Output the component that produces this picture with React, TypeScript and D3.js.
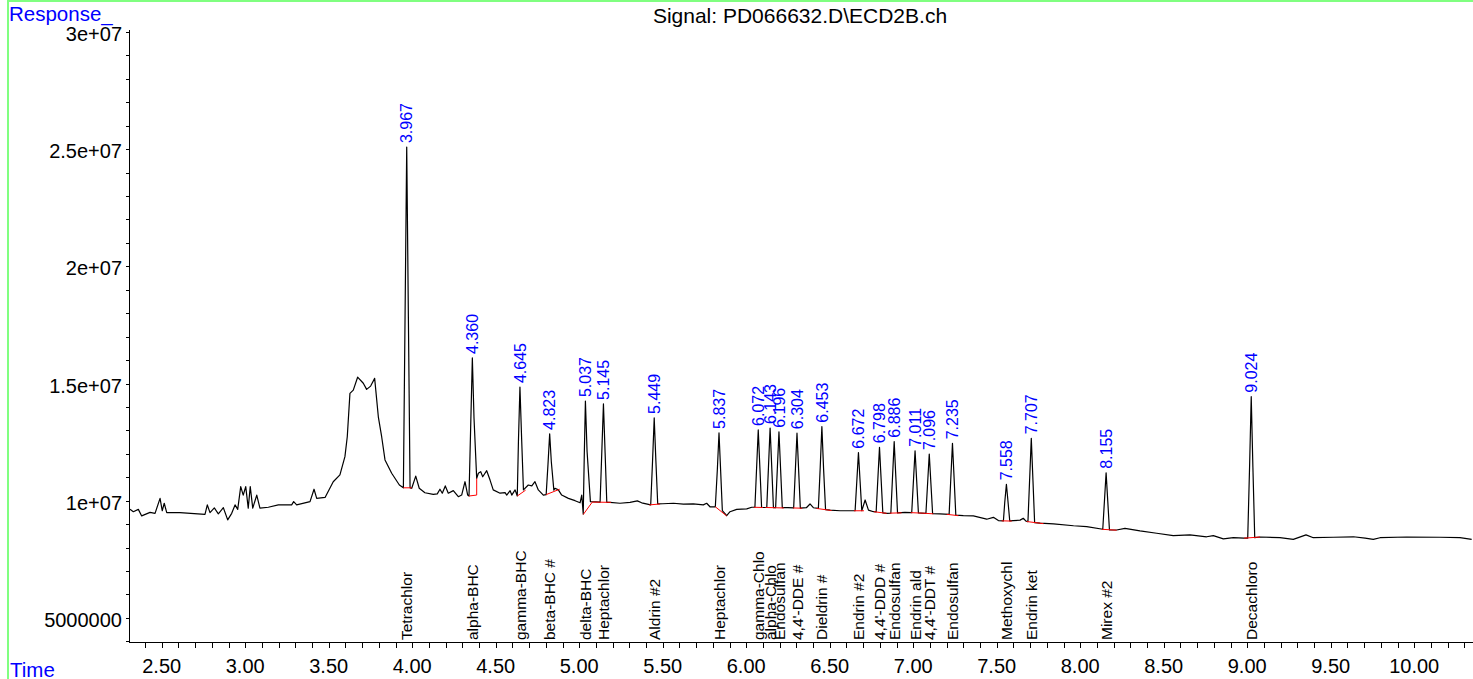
import React, { useRef, useEffect } from "react";
import { select, scaleLinear, line, range } from "d3";

// signal trace: [time (min), response (millions)]
const trace: [number, number][] = [
  [2.31, 9.63], [2.33, 9.53], [2.36, 9.63], [2.38, 9.35], [2.43, 9.5], [2.46, 9.46], [2.49, 10.1], [2.503, 9.57],
  [2.515, 9.89], [2.53, 9.49], [2.609, 9.49], [2.759, 9.42], [2.773, 9.82], [2.789, 9.49], [2.815, 9.69], [2.839, 9.44],
  [2.869, 9.7], [2.895, 9.18], [2.919, 9.46], [2.939, 9.82], [2.955, 9.63], [2.973, 10.6], [2.988, 10.24], [3.003, 10.6],
  [3.018, 9.68], [3.03, 10.6], [3.045, 9.68], [3.069, 10.24], [3.088, 9.68], [3.138, 9.72], [3.198, 9.82], [3.278, 9.82],
  [3.29, 9.96], [3.308, 9.82], [3.388, 9.96], [3.412, 10.49], [3.428, 10.1], [3.478, 10.14], [3.527, 10.81], [3.567, 11.1],
  [3.597, 11.88], [3.611, 12.73], [3.627, 14.58], [3.647, 14.72], [3.673, 15.27], [3.707, 15.01], [3.727, 14.75],
  [3.751, 14.89], [3.775, 15.22], [3.797, 13.58], [3.817, 12.73], [3.837, 11.74], [3.877, 11.17], [3.923, 10.67],
  [3.947, 10.55], [3.957, 17.82], [3.967, 25.09], [3.977, 17.82], [3.987, 10.55], [3.997, 10.53], [4.021, 11.05],
  [4.042, 10.53], [4.076, 10.34], [4.126, 10.27], [4.15, 10.29], [4.166, 10.49], [4.18, 10.32], [4.198, 10.63],
  [4.216, 10.32], [4.246, 10.43], [4.276, 10.17], [4.296, 10.24], [4.316, 10.81], [4.332, 10.24], [4.34, 10.2],
  [4.35, 13.15], [4.36, 16.09], [4.37, 13.52], [4.386, 10.95], [4.396, 11.17], [4.41, 11.24], [4.422, 11.02],
  [4.446, 11.28], [4.466, 10.88], [4.485, 10.46], [4.526, 10.32], [4.556, 10.34], [4.566, 10.24], [4.586, 10.43],
  [4.596, 10.24], [4.616, 10.46], [4.629, 10.2], [4.636, 12.53], [4.645, 14.85], [4.655, 12.66], [4.666, 10.46],
  [4.695, 10.67], [4.716, 10.63], [4.735, 10.81], [4.755, 10.46], [4.785, 10.24], [4.802, 10.26], [4.813, 11.56],
  [4.823, 12.85], [4.833, 11.65], [4.848, 10.45], [4.855, 10.53], [4.875, 10.46], [4.895, 10.24], [4.935, 10.1],
  [4.975, 10.0], [5.005, 9.91], [5.015, 10.24], [5.024, 9.43], [5.03, 11.84], [5.037, 14.25], [5.047, 12.1],
  [5.067, 9.96], [5.1, 9.95], [5.125, 9.94], [5.135, 12.04], [5.145, 14.13], [5.155, 12.04], [5.165, 9.93],
  [5.184, 9.93], [5.244, 9.89], [5.304, 9.93], [5.348, 9.99], [5.374, 9.91], [5.428, 9.82], [5.439, 11.68],
  [5.449, 13.53], [5.459, 11.7], [5.47, 9.86], [5.5, 9.87], [5.564, 9.89], [5.624, 9.85], [5.683, 9.86], [5.743, 9.82],
  [5.763, 9.89], [5.783, 9.74], [5.803, 9.74], [5.815, 9.74], [5.827, 11.32], [5.837, 12.89], [5.847, 11.24],
  [5.857, 9.58], [5.883, 9.36], [5.903, 9.53], [5.943, 9.63], [6.003, 9.65], [6.033, 9.72], [6.052, 9.72],
  [6.062, 11.37], [6.072, 13.02], [6.082, 11.37], [6.092, 9.71], [6.123, 9.71], [6.133, 11.4], [6.143, 13.1],
  [6.153, 11.4], [6.163, 9.7], [6.176, 9.7], [6.186, 11.32], [6.196, 12.94], [6.206, 11.32], [6.216, 9.7],
  [6.25, 9.7], [6.284, 9.69], [6.294, 11.28], [6.304, 12.88], [6.314, 11.28], [6.324, 9.68], [6.36, 9.7],
  [6.382, 9.86], [6.402, 9.7], [6.432, 9.67], [6.443, 11.41], [6.453, 13.16], [6.463, 11.39], [6.475, 9.62],
  [6.503, 9.6], [6.562, 9.57], [6.642, 9.57], [6.652, 9.57], [6.662, 10.81], [6.672, 12.05], [6.682, 10.81],
  [6.692, 9.57], [6.712, 10.03], [6.732, 9.6], [6.762, 9.53], [6.778, 9.52], [6.788, 10.9], [6.798, 12.28],
  [6.808, 10.88], [6.818, 9.48], [6.841, 9.46], [6.866, 9.47], [6.876, 11.0], [6.886, 12.52], [6.896, 11.0],
  [6.906, 9.48], [6.95, 9.5], [6.991, 9.49], [7.001, 10.81], [7.011, 12.13], [7.021, 10.81], [7.031, 9.48],
  [7.05, 9.47], [7.076, 9.46], [7.086, 10.72], [7.096, 11.99], [7.106, 10.72], [7.116, 9.45], [7.16, 9.44],
  [7.215, 9.42], [7.225, 10.94], [7.235, 12.45], [7.245, 10.92], [7.255, 9.38], [7.3, 9.36], [7.36, 9.35],
  [7.44, 9.21], [7.48, 9.29], [7.51, 9.15], [7.54, 9.14], [7.548, 9.92], [7.558, 10.7], [7.568, 9.92], [7.578, 9.14],
  [7.599, 9.15], [7.64, 9.17], [7.659, 9.25], [7.675, 9.13], [7.687, 9.11], [7.697, 10.89], [7.707, 12.66],
  [7.717, 10.86], [7.727, 9.06], [7.76, 9.04], [7.84, 9.01], [7.96, 8.93], [8.039, 8.89], [8.135, 8.78],
  [8.145, 9.99], [8.155, 11.19], [8.165, 9.97], [8.175, 8.75], [8.218, 8.75], [8.268, 8.82], [8.358, 8.71],
  [8.458, 8.61], [8.557, 8.51], [8.657, 8.54], [8.757, 8.46], [8.797, 8.51], [8.857, 8.37], [8.917, 8.42],
  [8.981, 8.4], [9.003, 8.4], [9.014, 11.42], [9.024, 14.44], [9.034, 11.43], [9.045, 8.42], [9.077, 8.45],
  [9.196, 8.42], [9.276, 8.35], [9.352, 8.54], [9.396, 8.42], [9.516, 8.44], [9.636, 8.46], [9.706, 8.4],
  [9.755, 8.35], [9.795, 8.42], [9.955, 8.45], [10.154, 8.44], [10.274, 8.42], [10.344, 8.35],
];

const peakTimes = [
  3.967, 4.36, 4.645, 4.823, 5.037, 5.145, 5.449, 5.837, 6.072, 6.143, 6.196, 6.304,
  6.453, 6.672, 6.798, 6.886, 7.011, 7.096, 7.235, 7.558, 7.707, 8.155, 9.024,
];
const peakApex = [
  25.09, 16.09, 14.85, 12.85, 14.25, 14.13, 13.53, 12.89, 13.02, 13.1, 12.94, 12.88,
  13.16, 12.05, 12.28, 12.52, 12.13, 11.99, 12.45, 10.7, 12.66, 11.19, 14.44,
];
const peakNames = [
  "Tetrachlor", "alpha-BHC", "gamma-BHC", "beta-BHC #", "delta-BHC", "Heptachlor", "Aldrin #2",
  "Heptachlor", "gamma-Chlo", "alpha-Chlo", "Endosulfan", "4,4'-DDE #", "Dieldrin #", "Endrin #2",
  "4,4'-DDD #", "Endosulfan", "Endrin ald", "4,4'-DDT #", "Endosulfan", "Methoxychl", "Endrin ket",
  "Mirex #2", "Decachloro",
];

// integration baselines: [t0, v0, t1, v1]
const baselines: [number, number, number, number][] = [
  [3.947, 10.55, 3.997, 10.55], [4.34, 10.2, 4.386, 10.24], [4.386, 10.24, 4.386, 10.95],
  [4.629, 10.2, 4.679, 10.45], [4.802, 10.26, 4.883, 10.49], [5.024, 9.41, 5.078, 9.94],
  [5.078, 9.94, 5.19, 9.93], [5.42, 9.82, 5.484, 9.86], [5.815, 9.74, 5.883, 9.35],
  [6.045, 9.72, 6.1, 9.71], [6.115, 9.71, 6.17, 9.7], [6.17, 9.7, 6.225, 9.69], [6.28, 9.69, 6.335, 9.68],
  [6.421, 9.67, 6.511, 9.58], [6.645, 9.57, 6.705, 9.57], [6.765, 9.53, 6.841, 9.46],
  [6.86, 9.47, 6.93, 9.48], [6.985, 9.49, 7.05, 9.47], [7.05, 9.47, 7.12, 9.44], [7.2, 9.42, 7.27, 9.36],
  [7.53, 9.14, 7.59, 9.13], [7.68, 9.11, 7.78, 9.02], [8.129, 8.78, 8.218, 8.74], [8.981, 8.4, 9.077, 8.45],
];

const xMajor = [2.5, 3, 3.5, 4, 4.5, 5, 5.5, 6, 6.5, 7, 7.5, 8, 8.5, 9, 9.5, 10];
const yMajor = [5, 10, 15, 20, 25, 30];
const yLabels = ["5000000", "1e+07", "1.5e+07", "2e+07", "2.5e+07", "3e+07"];

const FONT = "'Liberation Sans', Arial, Helvetica, sans-serif";

const App: React.FC = () => {
  const svgRef = useRef<SVGSVGElement>(null);

  useEffect(() => {
    if (!svgRef.current) return;
    const svg = select(svgRef.current);
    svg.selectAll("*").remove();

    const x = scaleLinear().domain([2.31, 10.34]).range([130, 1471]);
    const y = scaleLinear().domain([3.97, 30]).range([642, 32]);

    // green frame
    svg
      .append("rect")
      .attr("x", 8)
      .attr("y", 1)
      .attr("width", 1480)
      .attr("height", 700)
      .attr("fill", "none")
      .attr("stroke", "#80ff80")
      .attr("stroke-width", 2);

    // axes
    const axes = svg.append("g").attr("stroke", "#000").attr("stroke-width", 1);
    axes.append("line").attr("x1", 129.5).attr("x2", 129.5).attr("y1", 30).attr("y2", 642);
    axes.append("line").attr("x1", 129).attr("x2", 1473).attr("y1", 642.5).attr("y2", 642.5);

    range(24, 104).forEach((d) => {
      const px = Math.round(x(d / 10)) + 0.5;
      axes.append("line").attr("x1", px).attr("x2", px).attr("y1", 642).attr("y2", 648);
    });
    range(4, 31).forEach((d) => {
      const py = Math.round(y(d)) + 0.5;
      axes.append("line").attr("x1", 126).attr("x2", 129.5).attr("y1", py).attr("y2", py);
    });

    svg
      .append("g")
      .selectAll("text")
      .data(xMajor)
      .enter()
      .append("text")
      .attr("x", (d) => x(d))
      .attr("y", 673)
      .attr("text-anchor", "middle")
      .attr("font-size", 20)
      .attr("fill", "#000")
      .text((d) => d.toFixed(2));

    svg
      .append("g")
      .selectAll("text")
      .data(yMajor)
      .enter()
      .append("text")
      .attr("x", 122)
      .attr("y", (d) => y(d))
      .attr("dy", "0.45em")
      .attr("text-anchor", "end")
      .attr("font-size", 20)
      .attr("fill", "#000")
      .text((d, i) => yLabels[i]);

    // titles
    svg.append("text").attr("x", 9).attr("y", 20.5).attr("font-size", 20.5).attr("fill", "#0000ff").text("Response_");
    svg.append("text").attr("x", 10).attr("y", 677).attr("font-size", 20.5).attr("fill", "#0000ff").text("Time");
    svg
      .append("text")
      .attr("x", 800)
      .attr("y", 23)
      .attr("text-anchor", "middle")
      .attr("font-size", 21)
      .attr("fill", "#000")
      .text("Signal: PD066632.D\\ECD2B.ch");

    // trace
    const lineGen = line<[number, number]>()
      .x((d) => x(d[0]))
      .y((d) => y(d[1]));

    svg
      .append("path")
      .datum(trace)
      .attr("fill", "none")
      .attr("stroke", "#000")
      .attr("stroke-width", 1.2)
      .attr("stroke-linejoin", "round")
      .attr("d", lineGen);

    svg
      .append("g")
      .selectAll("line")
      .data(baselines)
      .enter()
      .append("line")
      .attr("x1", (d) => x(d[0]))
      .attr("y1", (d) => y(d[1]))
      .attr("x2", (d) => x(d[2]))
      .attr("y2", (d) => y(d[3]))
      .attr("stroke", "#ff0000")
      .attr("stroke-width", 1);

    // retention time labels
    svg
      .append("g")
      .selectAll("text")
      .data(peakTimes)
      .enter()
      .append("text")
      .attr("transform", (d, i) => `translate(${x(d)},${y(peakApex[i]) - 4}) rotate(-90)`)
      .attr("dy", "0.36em")
      .attr("font-size", 16)
      .attr("fill", "#0000ff")
      .text((d) => d.toFixed(3));

    // compound names
    svg
      .append("g")
      .selectAll("text")
      .data(peakTimes)
      .enter()
      .append("text")
      .attr("transform", (d) => `translate(${x(d)},640) rotate(-90)`)
      .attr("dy", "0.36em")
      .attr("font-size", 15.5)
      .attr("fill", "#000")
      .text((d, i) => peakNames[i]);
  }, []);

  return (
    <svg
      ref={svgRef}
      width={1473}
      height={679}
      style={{ position: "absolute", left: 0, top: 0, background: "#fff", fontFamily: FONT }}
    />
  );
};

export default App;
